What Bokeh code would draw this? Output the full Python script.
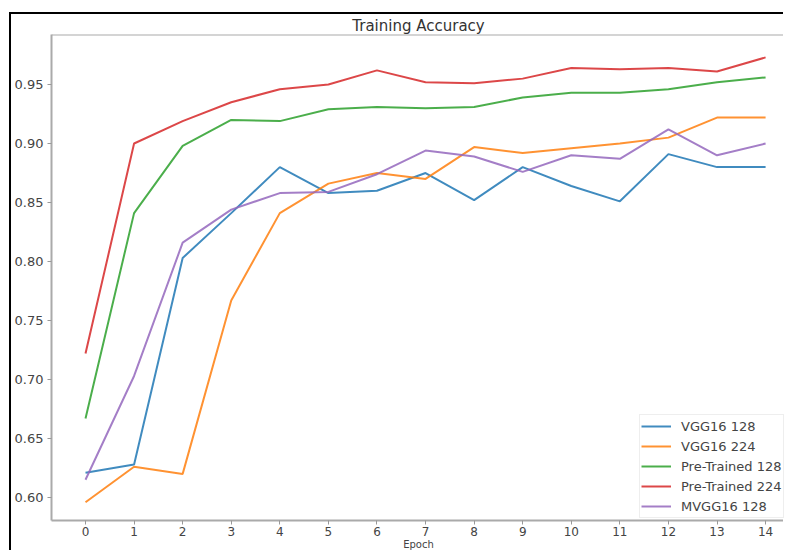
from bokeh.plotting import figure
from bokeh.models import Range1d, FixedTicker, PrintfTickFormatter, Legend, LegendItem, Span
from bokeh.embed import file_html
from bokeh.resources import INLINE

epochs = list(range(15))
vgg16_128 = [0.621, 0.628, 0.803, 0.841, 0.880, 0.858, 0.860, 0.875, 0.852, 0.880, 0.864, 0.851, 0.891, 0.880, 0.880]
vgg16_224 = [0.596, 0.626, 0.620, 0.767, 0.841, 0.866, 0.875, 0.870, 0.897, 0.892, 0.896, 0.900, 0.905, 0.922, 0.922]
pre_128 = [0.667, 0.841, 0.898, 0.920, 0.919, 0.929, 0.931, 0.930, 0.931, 0.939, 0.943, 0.943, 0.946, 0.952, 0.956]
pre_224 = [0.722, 0.900, 0.919, 0.935, 0.946, 0.950, 0.962, 0.952, 0.951, 0.955, 0.964, 0.963, 0.964, 0.961, 0.973]
mvgg16_128 = [0.615, 0.703, 0.816, 0.844, 0.858, 0.859, 0.874, 0.894, 0.889, 0.876, 0.890, 0.887, 0.912, 0.890, 0.900]

series_names = ["VGG16 128", "VGG16 224", "Pre-Trained 128", "Pre-Trained 224", "MVGG16 128"]
series_vals = [vgg16_128, vgg16_224, pre_128, pre_224, mvgg16_128]
colors = ["#1f77b4", "#ff7f0e", "#2ca02c", "#d62728", "#9467bd"]
y_ticks = [0.60, 0.65, 0.70, 0.75, 0.80, 0.85, 0.90, 0.95]

FONT = "DejaVu Sans"
GREY = "#444444"

p = figure(width=774, height=538, output_backend="svg", toolbar_location=None,
           x_range=Range1d(-0.7, 14.41), y_range=Range1d(0.5805, 0.9924),
           title="Training Accuracy")
p.min_border_left = 39
p.min_border_right = 0
p.min_border_top = 20
p.min_border_bottom = 29

p.title.align = "center"
p.title.text_font = FONT
p.title.text_font_size = "15px"
p.title.text_font_style = "normal"
p.title.text_color = "#333333"
p.title.standoff = 0

p.xgrid.visible = False
p.ygrid.visible = False
p.outline_line_color = None

for ax in (p.xaxis, p.yaxis):
    ax.axis_line_color = "#aaaaaa"
    ax.axis_line_width = 2
    ax.major_tick_line_color = "#999999"
    ax.major_tick_out = 4
    ax.major_tick_in = 0
    ax.minor_tick_line_color = None
    ax.major_label_text_font = FONT
    ax.major_label_text_color = GREY

p.yaxis.major_label_text_font_size = "13px"
p.xaxis.major_label_text_font_size = "12px"
p.xaxis.major_label_standoff = 2
p.xaxis.ticker = FixedTicker(ticks=epochs)
p.yaxis.ticker = FixedTicker(ticks=y_ticks)
p.yaxis.formatter = PrintfTickFormatter(format="%.2f")
p.yaxis.major_label_standoff = 4

p.xaxis.axis_label = "Epoch"
p.xaxis.axis_label_text_font = FONT
p.xaxis.axis_label_text_font_size = "10px"
p.xaxis.axis_label_text_font_style = "normal"
p.xaxis.axis_label_text_color = GREY
p.xaxis.axis_label_standoff = 0

# top spine
p.add_layout(Span(location=p.y_range.end, dimension="width", line_color="#aaaaaa", line_width=2))

items = []
for name, vals, c in zip(series_names, series_vals, colors):
    r = p.line(epochs, vals, line_color=c, line_width=2, line_alpha=0.85)
    items.append(LegendItem(label=name, renderers=[r]))

legend = Legend(items=items, location=(588, 2))
legend.label_text_font = FONT
legend.label_text_font_size = "13px"
legend.label_text_color = GREY
legend.border_line_color = "#dddddd"
legend.border_line_width = 1
legend.spacing = 0
legend.padding = 1
legend.margin = 0
legend.label_height = 20
legend.glyph_height = 20
legend.glyph_width = 30
legend.label_standoff = 10
p.add_layout(legend)

p.styles = {"border-top": "2px solid black", "border-left": "2px solid black",
            "margin-top": "12px", "margin-left": "9px"}

open("out.html", "w").write(file_html(p, INLINE))
